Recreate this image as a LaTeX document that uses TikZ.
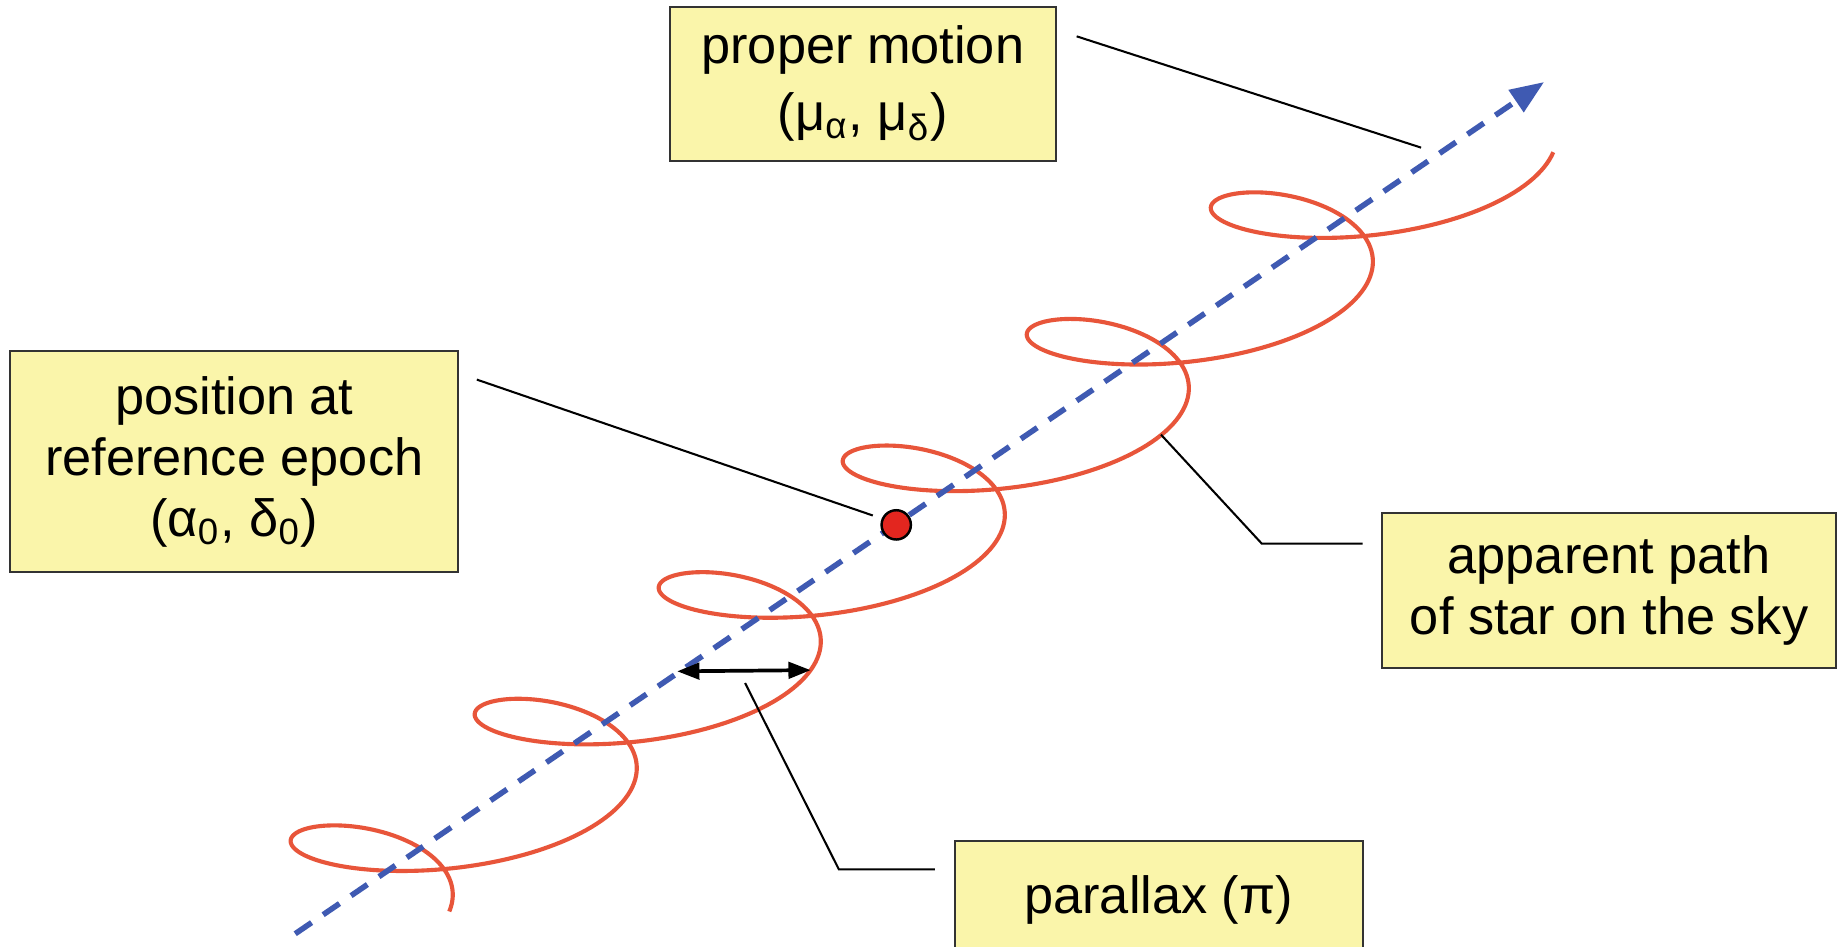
\documentclass[tikz,border=0pt]{standalone}
\usepackage{fontspec}
\setmainfont{Liberation Sans}
\usetikzlibrary{arrows.meta}
\definecolor{boxfill}{HTML}{FAF5AA}
\definecolor{boxline}{HTML}{333333}
\definecolor{pathred}{HTML}{E8553A}
\definecolor{pmblue}{HTML}{3F5AB2}
\definecolor{dotred}{HTML}{E3261F}
\begin{document}
\begin{tikzpicture}[x=0.01cm,y=-0.01cm,
  labelbox/.style={draw=boxline,line width=0.5pt,fill=boxfill,align=center,inner sep=0pt,
    font=\fontsize{12.7}{14.8}\selectfont},
  leader/.style={draw=black,line width=0.5pt},
  skypath/.style={draw=pathred,line width=1pt},
  motion/.style={draw=pmblue,line width=1.35pt,dash pattern=on 4.8pt off 3.4pt,
    -{Triangle[length=0.29cm,width=0.22cm]}},
  parrow/.style={draw=black,line width=0.9pt,
    {Triangle[length=0.19cm,width=0.14cm]}-{Triangle[length=0.19cm,width=0.14cm]}},
  stardot/.style={circle,fill=dotred,draw=black,line width=0.6pt,minimum size=0.25cm,inner sep=0pt}]
\useasboundingbox (0,0) rectangle (1568,808);
\fill[white] (0,0) rectangle (1568,808);

% apparent path (parallax ellipse + proper motion)
\draw[skypath] plot[domain=0:37.699,samples=700] ({278+25*\x+105.5*cos(\x r)},{778-17.2*\x-43*sin(\x r)});

% proper motion direction
\coordinate (ls) at (252,797);
\coordinate (le) at (1318,70);
\draw[motion] (ls) -- (le);

% star at reference epoch
\node[stardot] (dot) at (765,448) {};

% parallax arrow
\coordinate (parL) at (578,573);
\coordinate (parR) at (692,572);
\draw[parrow] (parL) -- (parR);

% boxes
\node[labelbox,minimum width=3.29cm,minimum height=1.31cm] (pm) at (736.5,71.5)
  {proper motion\\[1.5pt](μ\textsubscript{α}, μ\textsubscript{δ})};
\node[labelbox,minimum width=3.82cm,minimum height=1.88cm] (pos) at (200,394)
  {position at\\reference epoch\\(α\textsubscript{0}, δ\textsubscript{0})};
\node[labelbox,minimum width=3.87cm,minimum height=1.32cm] (app) at (1373.5,504)
  {apparent path\\of star on the sky};
\node[labelbox,minimum width=3.48cm,minimum height=1.00cm] (par) at (989,768)
  {parallax (π)};

% leaders
\coordinate (pmA) at (919,31);
\coordinate (pmB) at (1213,126);
\draw[leader] (pmA) -- (pmB);

\coordinate (posA) at (407,324);
\coordinate (posB) at (745,440);
\draw[leader] (posA) -- (posB);

\coordinate (appA) at (991,371);
\coordinate (appK) at (1077,464);
\coordinate (appB) at (1163,464);
\draw[leader] (appA) -- (appK) -- (appB);

\coordinate (parA) at (636,583);
\coordinate (parK) at (716,742);
\coordinate (parB) at (798,742);
\draw[leader] (parA) -- (parK) -- (parB);
\end{tikzpicture}
\end{document}
